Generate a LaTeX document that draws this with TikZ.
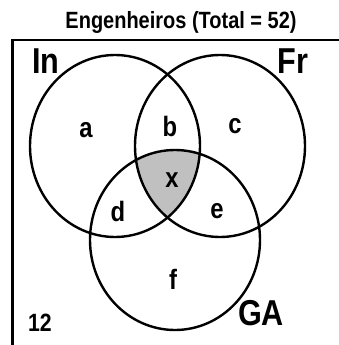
\documentclass[tikz,border=0pt]{standalone}
\usepackage{fontspec}
\setmainfont[FakeStretch=0.85]{Liberation Sans}
\usepackage{xcolor}
\definecolor{xgray}{HTML}{C0C0C0}
\begin{document}
\begin{tikzpicture}[x=1pt,y=-1pt,
 set/.style={line width=2.4pt,draw=black},
 setname/.style={font=\fontsize{36}{36}\selectfont\bfseries,inner sep=0pt},
 region/.style={font=\fontsize{28}{28}\selectfont\bfseries,inner sep=0pt}]
 \useasboundingbox (0,0) rectangle (338,345);
 \node[font=\fontsize{23.5}{23.5}\selectfont\bfseries,inner sep=0pt] (title) at (181,22) {Engenheiros (Total = 52)};
 \draw[line width=2.2pt] (12.5,346) |- (339,40);
 % shaded x region
 \begin{scope}
  \clip (115,146) ellipse [x radius=85, y radius=91];
  \clip (220,146) ellipse [x radius=85, y radius=91];
  \fill[xgray] (175,240) ellipse [x radius=85, y radius=90];
 \end{scope}
 \draw[set] (115,146) ellipse [x radius=85, y radius=91];
 \draw[set] (220,146) ellipse [x radius=85, y radius=91];
 \draw[set] (175,240) ellipse [x radius=85, y radius=90];
 \node[setname] (in) at (46,61) {In};
 \node[setname] (fr) at (293,61) {Fr};
 \node[setname] (ga) at (261,313) {GA};
 \node[region] (a) at (86,130) {a};
 \node[region] (b) at (170,126) {b};
 \node[region] (c) at (235,126) {c};
 \node[region] (d) at (118,211) {d};
 \node[region] (x) at (172,180) {x};
 \node[region] (e) at (217,211) {e};
 \node[region] (f) at (173,279) {f};
 \node[font=\fontsize{25}{25}\selectfont\bfseries,inner sep=0pt] (out) at (40,323) {12};
\end{tikzpicture}
\end{document}
